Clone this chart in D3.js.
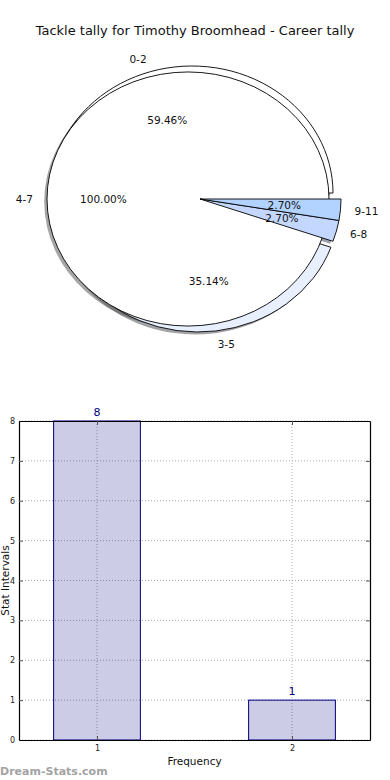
<!DOCTYPE html>
<html>
<head>
<meta charset="utf-8">
<script src="https://cdn.jsdelivr.net/npm/d3@7"></script>
<style>
body { margin: 0; background: #fff; }
text { font-family: "DejaVu Sans", sans-serif; }
</style>
</head>
<body>
<script>
var title = "Tackle tally for Timothy Broomhead - Career tally"

// pie data: the four ranges run clockwise from east, 4-7 is a pie of its own
var pieLabels = ["9-11", "6-8", "3-5", "0-2"]
var pieCounts = [1, 1, 13, 22]
var soloLabels = ["4-7"]
var soloCounts = [37]

// bar chart data
var barCats = [1, 2]
var barValues = [8, 1]
var yTicks = [0, 1, 2, 3, 4, 5, 6, 7, 8]

var svg = d3.select("body")
    .append("svg")
    .attr("width", 390)
    .attr("height", 780)

svg.append("text")
    .attr("x", 195)
    .attr("y", 35)
    .attr("text-anchor", "middle")
    .style("font-size", "13px")
    .style("fill", "#111")
    .text(title)

//---------------- pie ----------------
var pie = {cx: 200, cy: 199, rx: 141, ry: 127}
var k = pie.ry / pie.rx

var pieGen = d3.pie()
    .sort(null)
    .startAngle(Math.PI / 2)
    .endAngle(Math.PI / 2 + 2 * Math.PI)
    .value(function(d) { return d.count })

var mkSlices = function(labels, counts)
{
    var total = d3.sum(counts)
    var rows = labels.map(function(l, i) { return {label: l, count: counts[i]} })
    return pieGen(rows).map(function(s) {
        s.pct = s.data.count / total * 100
        return s
    })
}

var slices = mkSlices(pieLabels, pieCounts).concat(mkSlices(soloLabels, soloCounts))

// the order the wedges got stacked in
var drawOrder = ["0-2", "3-5", "4-7", "6-8", "9-11"]
slices.sort(function(a, b) {
    return drawOrder.indexOf(a.data.label) - drawOrder.indexOf(b.data.label)
})

var explode = {"0-2": [-8, -6], "3-5": [-2, 6], "4-7": [-12, 0], "6-8": [0, 0], "9-11": [0, 0]}
var fills = {"0-2": "#ffffff", "3-5": "#e8efff", "4-7": "#ffffff", "6-8": "#c4d8ff", "9-11": "#b2d2ff"}
var shadowOff = [-2.8, 2.5]

var arc = d3.arc()
    .innerRadius(0)
    .outerRadius(pie.rx)

var place = function(d, dx, dy)
{
    var e = explode[d.data.label]
    return "translate(" + (pie.cx + e[0] + dx) + "," + (pie.cy + e[1] + dy) + ") scale(1," + k + ")"
}

// shadows go under every wedge
svg.append("g")
    .attr("id", "shadows")
    .selectAll("path")
    .data(slices)
    .enter()
    .append("path")
    .attr("d", arc)
    .attr("transform", function(d) { return place(d, shadowOff[0], shadowOff[1]) })
    .attr("fill", function(d) {
        var c = d3.rgb(fills[d.data.label])
        return "rgb(" + c.r * 0.3 + "," + c.g * 0.3 + "," + c.b * 0.3 + ")"
    })
    .attr("fill-opacity", 0.5)

svg.append("g")
    .attr("id", "wedges")
    .selectAll("path")
    .data(slices)
    .enter()
    .append("path")
    .attr("d", arc)
    .attr("transform", function(d) { return place(d, 0, 0) })
    .attr("fill", function(d) { return fills[d.data.label] })
    .attr("stroke", "#000")
    .attr("stroke-width", 0.9)
    .attr("vector-effect", "non-scaling-stroke")

var midPoint = function(d, f)
{
    var a = (d.startAngle + d.endAngle) / 2
    var e = explode[d.data.label]
    return [pie.cx + e[0] + f * pie.rx * Math.sin(a), pie.cy + e[1] - f * pie.ry * Math.cos(a)]
}

var lbls = svg.append("g").attr("id", "pieLabels")

lbls.selectAll("text.lab")
    .data(slices)
    .enter()
    .append("text")
    .attr("class", "lab")
    .attr("x", function(d) { return midPoint(d, 1.1)[0] })
    .attr("y", function(d) { return midPoint(d, 1.1)[1] })
    .attr("text-anchor", function(d) { return Math.sin((d.startAngle + d.endAngle) / 2) > 0 ? "start" : "end" })
    .attr("dominant-baseline", "central")
    .style("font-size", "10.5px")
    .style("fill", "#111")
    .text(function(d) { return d.data.label })

lbls.selectAll("text.pct")
    .data(slices)
    .enter()
    .append("text")
    .attr("class", "pct")
    .attr("x", function(d) { return midPoint(d, 0.6)[0] })
    .attr("y", function(d) { return midPoint(d, 0.6)[1] })
    .attr("text-anchor", "middle")
    .attr("dominant-baseline", "central")
    .style("font-size", "10.5px")
    .style("fill", "#111")
    .text(function(d) { return d.pct.toFixed(2) + "%" })

//---------------- bars ----------------
var box = {left: 19, right: 370, top: 421, bottom: 740}
var barWidth = 0.445

var xScale = d3.scaleLinear()
    .domain([0.6, 2.4])
    .range([box.left, box.right])

var yScale = d3.scaleLinear()
    .domain([0, 8])
    .range([box.bottom, box.top])

var grid = svg.append("g").attr("id", "grid")

grid.selectAll("line.h")
    .data(yTicks)
    .enter()
    .append("line")
    .attr("class", "h")
    .attr("x1", box.left)
    .attr("x2", box.right)
    .attr("y1", function(d) { return yScale(d) })
    .attr("y2", function(d) { return yScale(d) })

grid.selectAll("line.v")
    .data(barCats)
    .enter()
    .append("line")
    .attr("class", "v")
    .attr("x1", function(d) { return xScale(d) })
    .attr("x2", function(d) { return xScale(d) })
    .attr("y1", box.top)
    .attr("y2", box.bottom)

grid.selectAll("line")
    .attr("stroke", "#aaa")
    .attr("stroke-width", 1)
    .attr("stroke-dasharray", "1,2")

svg.append("g")
    .attr("id", "bars")
    .selectAll("rect")
    .data(barValues)
    .enter()
    .append("rect")
    .attr("x", function(d, i) { return xScale(barCats[i] - barWidth / 2) })
    .attr("y", function(d) { return yScale(d) })
    .attr("width", xScale(barWidth) - xScale(0))
    .attr("height", function(d) { return yScale(0) - yScale(d) })
    .attr("fill", "#000080")
    .attr("fill-opacity", 0.2)
    .attr("stroke", "#000080")
    .attr("stroke-width", 1)

svg.append("g")
    .attr("id", "barLabels")
    .selectAll("text")
    .data(barValues)
    .enter()
    .append("text")
    .attr("x", function(d, i) { return xScale(barCats[i]) })
    .attr("y", function(d) { return yScale(d) - 5 })
    .attr("text-anchor", "middle")
    .style("font-size", "11px")
    .style("fill", "#000080")
    .text(function(d) { return d })

// axes, ticks point inwards like the old matplotlib look
svg.append("g")
    .attr("transform", "translate(" + box.left + ",0)")
    .call(d3.axisLeft(yScale).tickValues(yTicks).tickFormat(d3.format("d")).tickSizeInner(-4).tickSizeOuter(0).tickPadding(4))
svg.append("g")
    .attr("transform", "translate(" + box.right + ",0)")
    .call(d3.axisRight(yScale).tickValues(yTicks).tickSizeInner(-4).tickSizeOuter(0).tickFormat(""))
svg.append("g")
    .attr("transform", "translate(0," + box.bottom + ")")
    .call(d3.axisBottom(xScale).tickValues(barCats).tickFormat(d3.format("d")).tickSizeInner(-4).tickSizeOuter(0).tickPadding(5))
svg.append("g")
    .attr("transform", "translate(0," + box.top + ")")
    .call(d3.axisTop(xScale).tickValues(barCats).tickSizeInner(-4).tickSizeOuter(0).tickFormat(""))

svg.selectAll(".tick text")
    .style("font-family", "DejaVu Sans")
    .style("font-size", "8px")
    .style("fill", "#222")
svg.selectAll(".domain").attr("stroke", "#000").attr("stroke-width", 1.2)
svg.selectAll(".tick line").attr("stroke", "#555")

svg.append("text")
    .attr("x", (box.left + box.right) / 2)
    .attr("y", 765)
    .attr("text-anchor", "middle")
    .style("font-size", "10.5px")
    .style("fill", "#111")
    .text("Frequency")

svg.append("text")
    .attr("transform", "translate(9," + (box.top + box.bottom) / 2 + ") rotate(-90)")
    .attr("text-anchor", "middle")
    .style("font-size", "10.5px")
    .style("fill", "#111")
    .text("Stat Intervals")

svg.append("text")
    .attr("x", 0)
    .attr("y", 775)
    .style("font-size", "11px")
    .style("font-weight", "bold")
    .style("fill", "#a3a3a3")
    .text("Dream-Stats.com")
</script>
</body>
</html>
